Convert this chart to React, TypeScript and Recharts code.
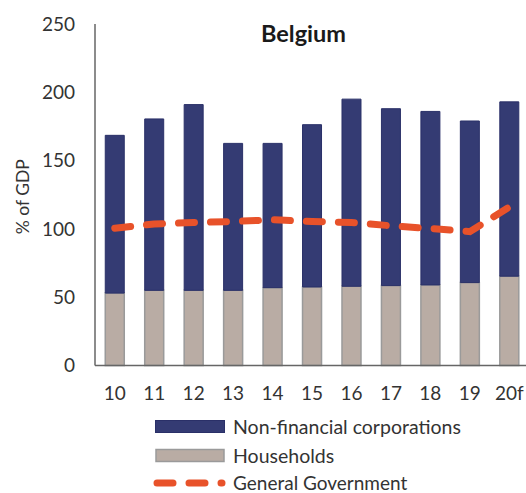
import { ComposedChart, Bar, Line, XAxis, YAxis } from 'recharts'

const years = ['10', '11', '12', '13', '14', '15', '16', '17', '18', '19', '20f']
const households = [53, 55, 55, 55, 57, 57.5, 58, 58.5, 59, 60.7, 65.4]
const nonFinancialCorps = [115.5, 125.5, 136, 107.6, 105.6, 118.8, 137, 129.5, 127, 118.3, 127.6]
const generalGovernment = [100.5, 103.6, 104.7, 105.4, 106.7, 105.4, 104.7, 102.3, 100.3, 98, 116]
const yTicks = [0, 50, 100, 150, 200, 250]

const FONT = 'Lato, "Open Sans", sans-serif'
const NAVY = '#343b73'
const TAUPE = '#b9aca4'
const ORANGE = '#e8522a'

const data = years.map((year, i) => ({
  year,
  households: households[i],
  nfc: nonFinancialCorps[i],
  gov: generalGovernment[i],
}))

const App = () => {
  return (
    <div style={{ position: 'relative', width: 526, height: 493, overflow: 'hidden', background: '#fff' }}>
      <style>{'body{margin:0;overflow:hidden}'}</style>

      {/* Title */}
      <div
        style={{
          position: 'absolute',
          left: 0,
          width: 607,
          top: 19,
          textAlign: 'center',
          fontFamily: FONT,
          fontWeight: 700,
          fontSize: 23.5,
          color: '#1a1a1a',
          lineHeight: '28px',
          zIndex: 2,
        }}
      >
        Belgium
      </div>

      <ComposedChart width={540} height={420} data={data} margin={{ top: 24, right: 11, bottom: 4.5, left: 0 }} barCategoryGap="26%">
        <XAxis
          dataKey="year"
          height={50}
          tickLine={false}
          tickSize={0}
          tickMargin={21}
          axisLine={{ stroke: '#666', strokeWidth: 1.5 }}
          tick={{ fontFamily: FONT, fontSize: 19, fill: '#333' }}
          interval={0}
        />
        <YAxis
          width={95}
          domain={[0, 250]}
          ticks={yTicks}
          tickLine={false}
          tickSize={0}
          tickMargin={20}
          axisLine={{ stroke: '#666', strokeWidth: 1.5 }}
          tick={{ fontFamily: FONT, fontSize: 19, fill: '#333' }}
          label={({ viewBox }: any) => (
            <text
              x={22}
              y={viewBox.y + viewBox.height / 2 + 2}
              transform={`rotate(-90, 22, ${viewBox.y + viewBox.height / 2 + 2})`}
              textAnchor="middle"
              dominantBaseline="central"
              fontFamily={FONT}
              fontSize={17.5}
              fill="#333"
            >
              % of GDP
            </text>
          )}
        />
        <Bar dataKey="households" stackId="a" fill={TAUPE} stroke="#9a9a9a" strokeWidth={1.5} isAnimationActive={false} />
        <Bar dataKey="nfc" stackId="a" fill={NAVY} stroke="#2a3068" strokeWidth={1} isAnimationActive={false} />
        <Line
          type="linear"
          dataKey="gov"
          stroke={ORANGE}
          strokeWidth={7}
          strokeDasharray="16 16"
          strokeLinecap="round"
          dot={false}
          activeDot={false}
          isAnimationActive={false}
        />
      </ComposedChart>

      {/* Legend */}
      <svg width={526} height={88} style={{ position: 'absolute', left: 0, top: 405 }}>
        <rect x={155.5} y={15.5} width={69} height={12} fill={NAVY} stroke="#2a3068" strokeWidth={1} />
        <text x={233} y={21.5} dominantBaseline="central" fontFamily={FONT} fontSize={19.5} fill="#333">
          Non-financial corporations
        </text>
        <rect x={156} y={44.5} width={68} height={12} fill={TAUPE} stroke="#9a9a9a" strokeWidth={1.5} />
        <text x={233} y={50.5} dominantBaseline="central" fontFamily={FONT} fontSize={19.5} fill="#333">
          Households
        </text>
        <line x1={157} y1={78} x2={222} y2={78} stroke={ORANGE} strokeWidth={7} strokeLinecap="round" strokeDasharray="16 16" />
        <text x={233} y={77.5} dominantBaseline="central" fontFamily={FONT} fontSize={19} fill="#333">
          General Government
        </text>
      </svg>
    </div>
  )
}

export default App
